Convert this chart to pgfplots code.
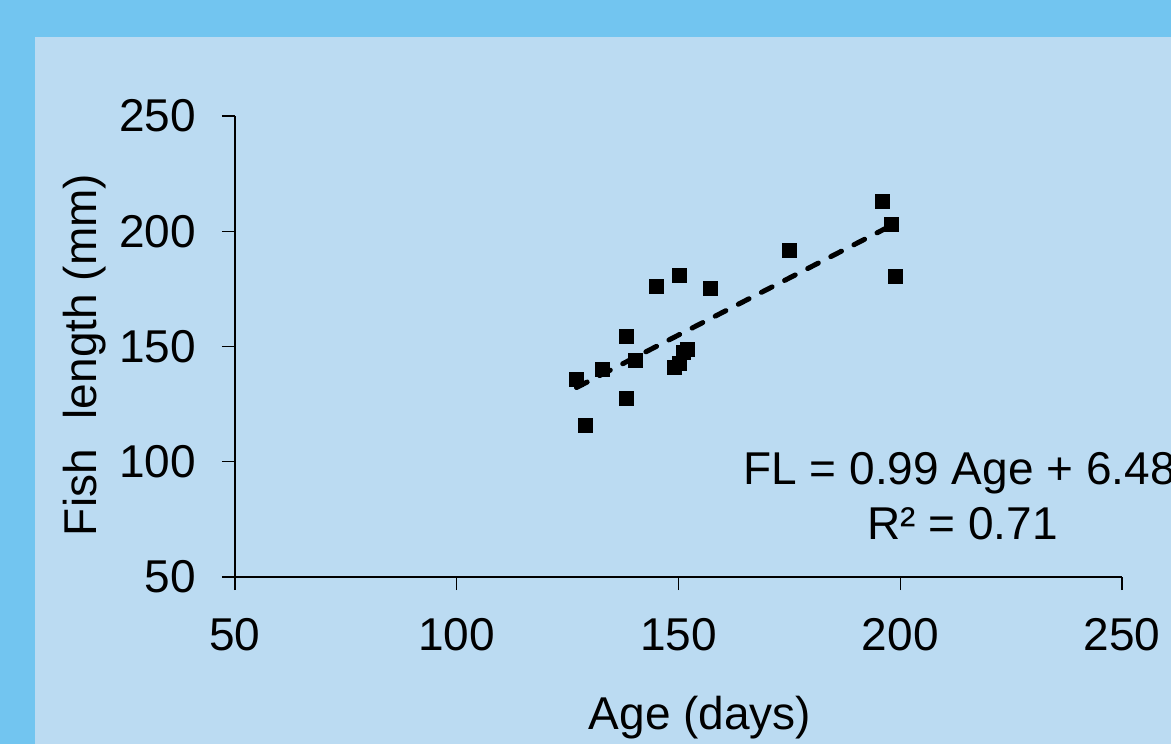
\documentclass[border=0pt]{standalone}
\usepackage{pgfplots}
\pgfplotsset{compat=1.18}
\usepackage{fontspec}
\setmainfont{Liberation Sans}
\definecolor{outerbg}{HTML}{72C5F0}
\definecolor{innerbg}{HTML}{BBDBF2}
\newcommand{\bigfont}{\fontsize{23}{27}\selectfont}

\begin{document}
\begin{tikzpicture}
% page frame: 1171 x 744 px, 1 px = 0.5pt
\path[use as bounding box, clip] (0,0) rectangle (585.5pt,-372pt);
\begin{scope}[x=0.5pt,y=-0.5pt]
\fill[outerbg] (0,0) rectangle (1171,744);
\fill[innerbg] (35,37) rectangle (1171,744);
\end{scope}

\begin{axis}[
  at={(117.5pt,-288.5pt)}, anchor=south west,
  scale only axis, width=443.5pt, height=230.5pt,
  xmin=50, xmax=250, ymin=50, ymax=250,
  xtick={50,100,...,250}, ytick={50,100,...,250},
  axis lines=left, axis line style={-, line width=0.6pt},
  tick align=outside, major tick length=6.5pt,
  tick style={black, line width=0.6pt},
  ticklabel style={font=\bigfont},
  yticklabel style={xshift=-9.5pt},
  xticklabel style={yshift=-10.5pt},
  /pgf/number format/assume math mode=true,
  clip=false,
]
\addplot[only marks, mark=square*, mark size=3.5pt, black] coordinates {
 (127.0,135.9) (129.1,115.9) (132.9,140.2) (138.2,154.3) (138.2,127.4)
 (140.2,144.1) (145.1,176.2) (150.1,181.0) (149.0,141.1) (150.1,142.8)
 (151.2,147.6) (152.1,148.9) (157.1,175.1) (175.1,191.9) (196.0,213.1)
 (198.1,203.1) (199.0,180.3)
};
\addplot[black, line width=2.5pt, line cap=round, dash pattern=on 6pt off 7pt]
 coordinates {(127,132.2) (199,203.5)};
\end{axis}

\begin{scope}[x=0.5pt,y=-0.5pt]
\node[font=\bigfont, rotate=90] at (85,355) {Fish\hspace{0.65em}length (mm)};
\node[font=\bigfont] at (700,718) {Age (days)};
\node[font=\bigfont, anchor=base west, inner sep=0pt] at (743,484) {FL = 0.99 Age + 6.48};
\node[font=\bigfont, anchor=base west, inner sep=0pt] at (867,539) {R² = 0.71};
\end{scope}
\end{tikzpicture}
\end{document}
